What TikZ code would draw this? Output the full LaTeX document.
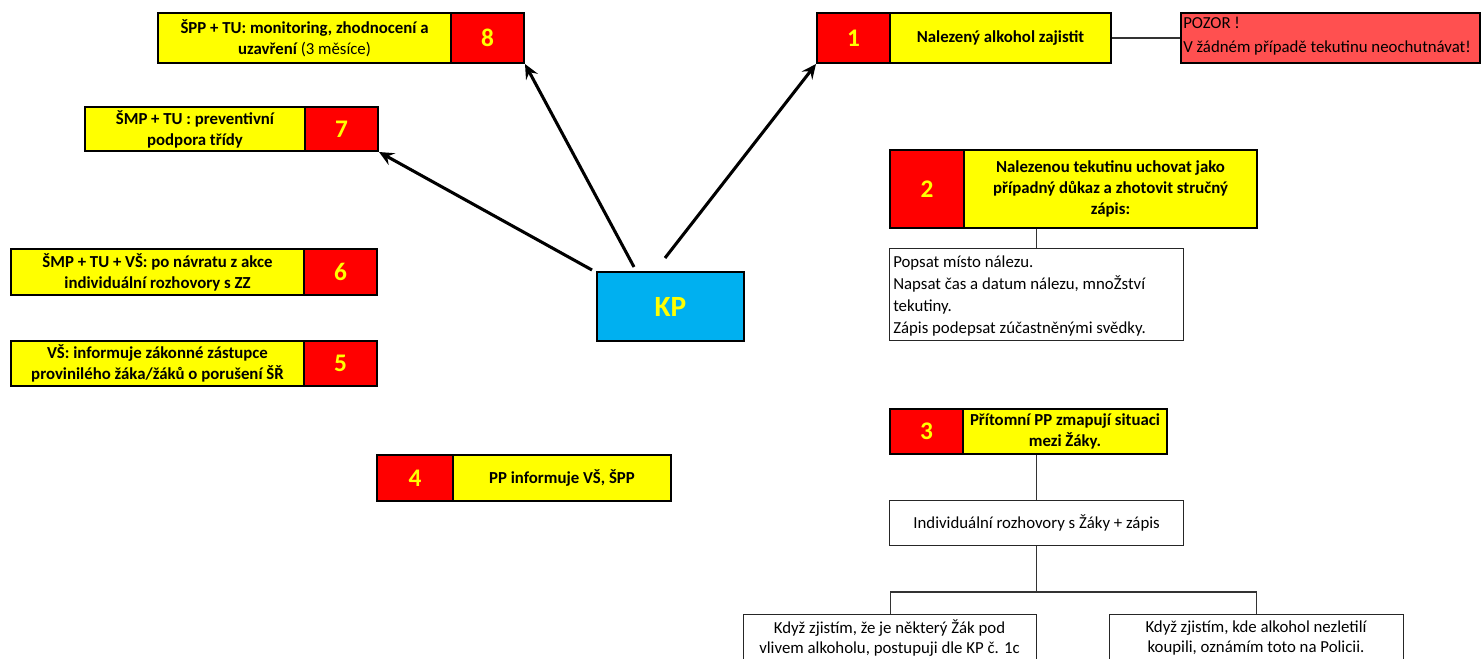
\documentclass[tikz,border=0pt]{standalone}
\usepackage{fontspec}
\setmainfont{Carlito}
\usetikzlibrary{arrows.meta}
\definecolor{yel}{HTML}{FFFF00}
\definecolor{rd}{HTML}{FF0000}
\definecolor{cy}{HTML}{00B0F0}
\definecolor{pz}{HTML}{FF5050}
\newcommand\pbox[7]{\node[minimum width={(#4-#2)*0.75pt}, minimum height={(#5-#3)*0.75pt}, inner sep=0pt, anchor=north west, #6] (#1) at (#2,#3) {#7};}
\begin{document}
\begin{tikzpicture}[x=0.75pt,y=-0.75pt,
  ybox/.style={draw=black, line width=1.5pt, fill=yel, align=center, font=\fontsize{12.6}{15.75}\selectfont\bfseries},
  rbox/.style={draw=black, line width=1.5pt, fill=rd, text=yel, font=\fontsize{19}{22}\selectfont\bfseries},
  kpbox/.style={draw=black, line width=1.5pt, fill=cy, text=yel, font=\fontsize{22}{26}\selectfont\bfseries},
  pzbox/.style={draw=black, line width=1.5pt, fill=pz},
  wbox/.style={draw=black!85, line width=0.9pt, fill=white, align=center, font=\fontsize{12.6}{15.5}\selectfont},
  wtext/.style={inner sep=0pt, font=\fontsize{12.6}{16.5}\selectfont},
  arr/.style={line width=2.3pt, -{Stealth[length=11pt,width=10pt,inset=4pt]}},
  conn/.style={line width=0.9pt, draw=black!80}]
\clip (0,0) rectangle (1483,659);
\fill[white] (0,0) rectangle (1483,659);

% box 8
\pbox{b8y}{157}{12}{450}{62}{ybox}{ŠPP + TU: monitoring, zhodnocení a\\uzavření {\mdseries(3 měsíce)}}
\pbox{b8r}{450}{12}{523}{62}{rbox}{8}
% box 1
\pbox{b1r}{816}{12}{889}{62}{rbox}{1}
\pbox{b1y}{889}{12}{1110}{62}{ybox}{Nalezený alkohol zajistit}
\pbox{pz}{1180}{12}{1479}{62}{pzbox}{}
\node[wtext, anchor=west, align=left, font=\fontsize{12.6}{18}\selectfont] (pzt) at (1183,36) {POZOR !\\V žádném případě tekutinu neochutnávat!};
\draw[conn] (b1y.east) -- (pz.west);
% box 7
\pbox{b7y}{84}{106}{304}{150}{ybox}{ŠMP + TU : preventivní\\podpora třídy}
\pbox{b7r}{304}{106}{377}{150}{rbox}{7}
% box 2
\pbox{b2r}{889}{149}{963}{227}{rbox}{2}
\pbox{b2y}{963}{149}{1256}{227}{ybox}{Nalezenou tekutinu uchovat jako\\případný důkaz a zhotovit stručný\\zápis:}
\pbox{w2}{889}{248}{1183}{340}{wbox}{}
\node[wtext, anchor=west, align=left] (w2t) at (893,296) {Popsat místo nálezu.\\Napsat čas a datum nálezu, mnoŽství\\tekutiny.\\Zápis podepsat zúčastněnými svědky.};
\draw[conn] (w2.north) -- (w2.north |- b2y.south);
% box 6, 5
\pbox{b6y}{10}{248}{303}{294}{ybox}{ŠMP + TU + VŠ: po návratu z akce\\individuální rozhovory s ZZ}
\pbox{b6r}{303}{248}{376}{294}{rbox}{6}
\pbox{b5y}{10}{340}{303}{385}{ybox}{VŠ: informuje zákonné zástupce\\provinilého žáka/žáků o porušení ŠŘ}
\pbox{b5r}{303}{340}{376}{385}{rbox}{5}
% KP
\pbox{kp}{596}{271}{743}{340}{kpbox}{KP}
% box 3
\pbox{b3r}{889}{408}{962}{453}{rbox}{3}
\pbox{b3y}{962}{408}{1166}{453}{ybox}{Přítomní PP zmapují situaci\\mezi Žáky.}
\pbox{w3}{889}{500}{1183}{545}{wbox}{Individuální rozhovory s Žáky + zápis}
\draw[conn] (w3.north) -- (w3.north |- b3y.south);
% box 4
\pbox{b4r}{376}{454}{452}{500}{rbox}{4}
\pbox{b4y}{452}{454}{670}{500}{ybox}{PP informuje VŠ, ŠPP}
% bottom boxes
\pbox{wl}{743}{614}{1036}{700}{wbox}{}
\pbox{wr}{1109}{614}{1403}{700}{wbox}{}
\node[wtext, align=center, font=\fontsize{12.6}{15.6}\selectfont] (wlt) at (889.5,638) {Když zjistím, že je některý Žák pod\\vlivem alkoholu, postupuji dle KP č. 1c};
\node[wtext, align=center, font=\fontsize{12.6}{15.6}\selectfont] (wrt) at (1256,638) {Když zjistím, kde alkohol nezletilí\\koupili, oznámím toto na Policii.};
\coordinate (fork) at (w3.south |- 0,592);
\draw[conn] (w3.south) -- (fork);
\draw[conn] (wl.north) |- (fork) -| (wr.north);
% arrows
\coordinate (s7) at (592,270);
\coordinate (s8) at (634,267);
\coordinate (s1) at (665,258);
\draw[arr] (s7) -- (b7r.south east);
\draw[arr] (s8) -- (b8r.south east);
\draw[arr] (s1) -- (b1r.south west);
\end{tikzpicture}
\end{document}
